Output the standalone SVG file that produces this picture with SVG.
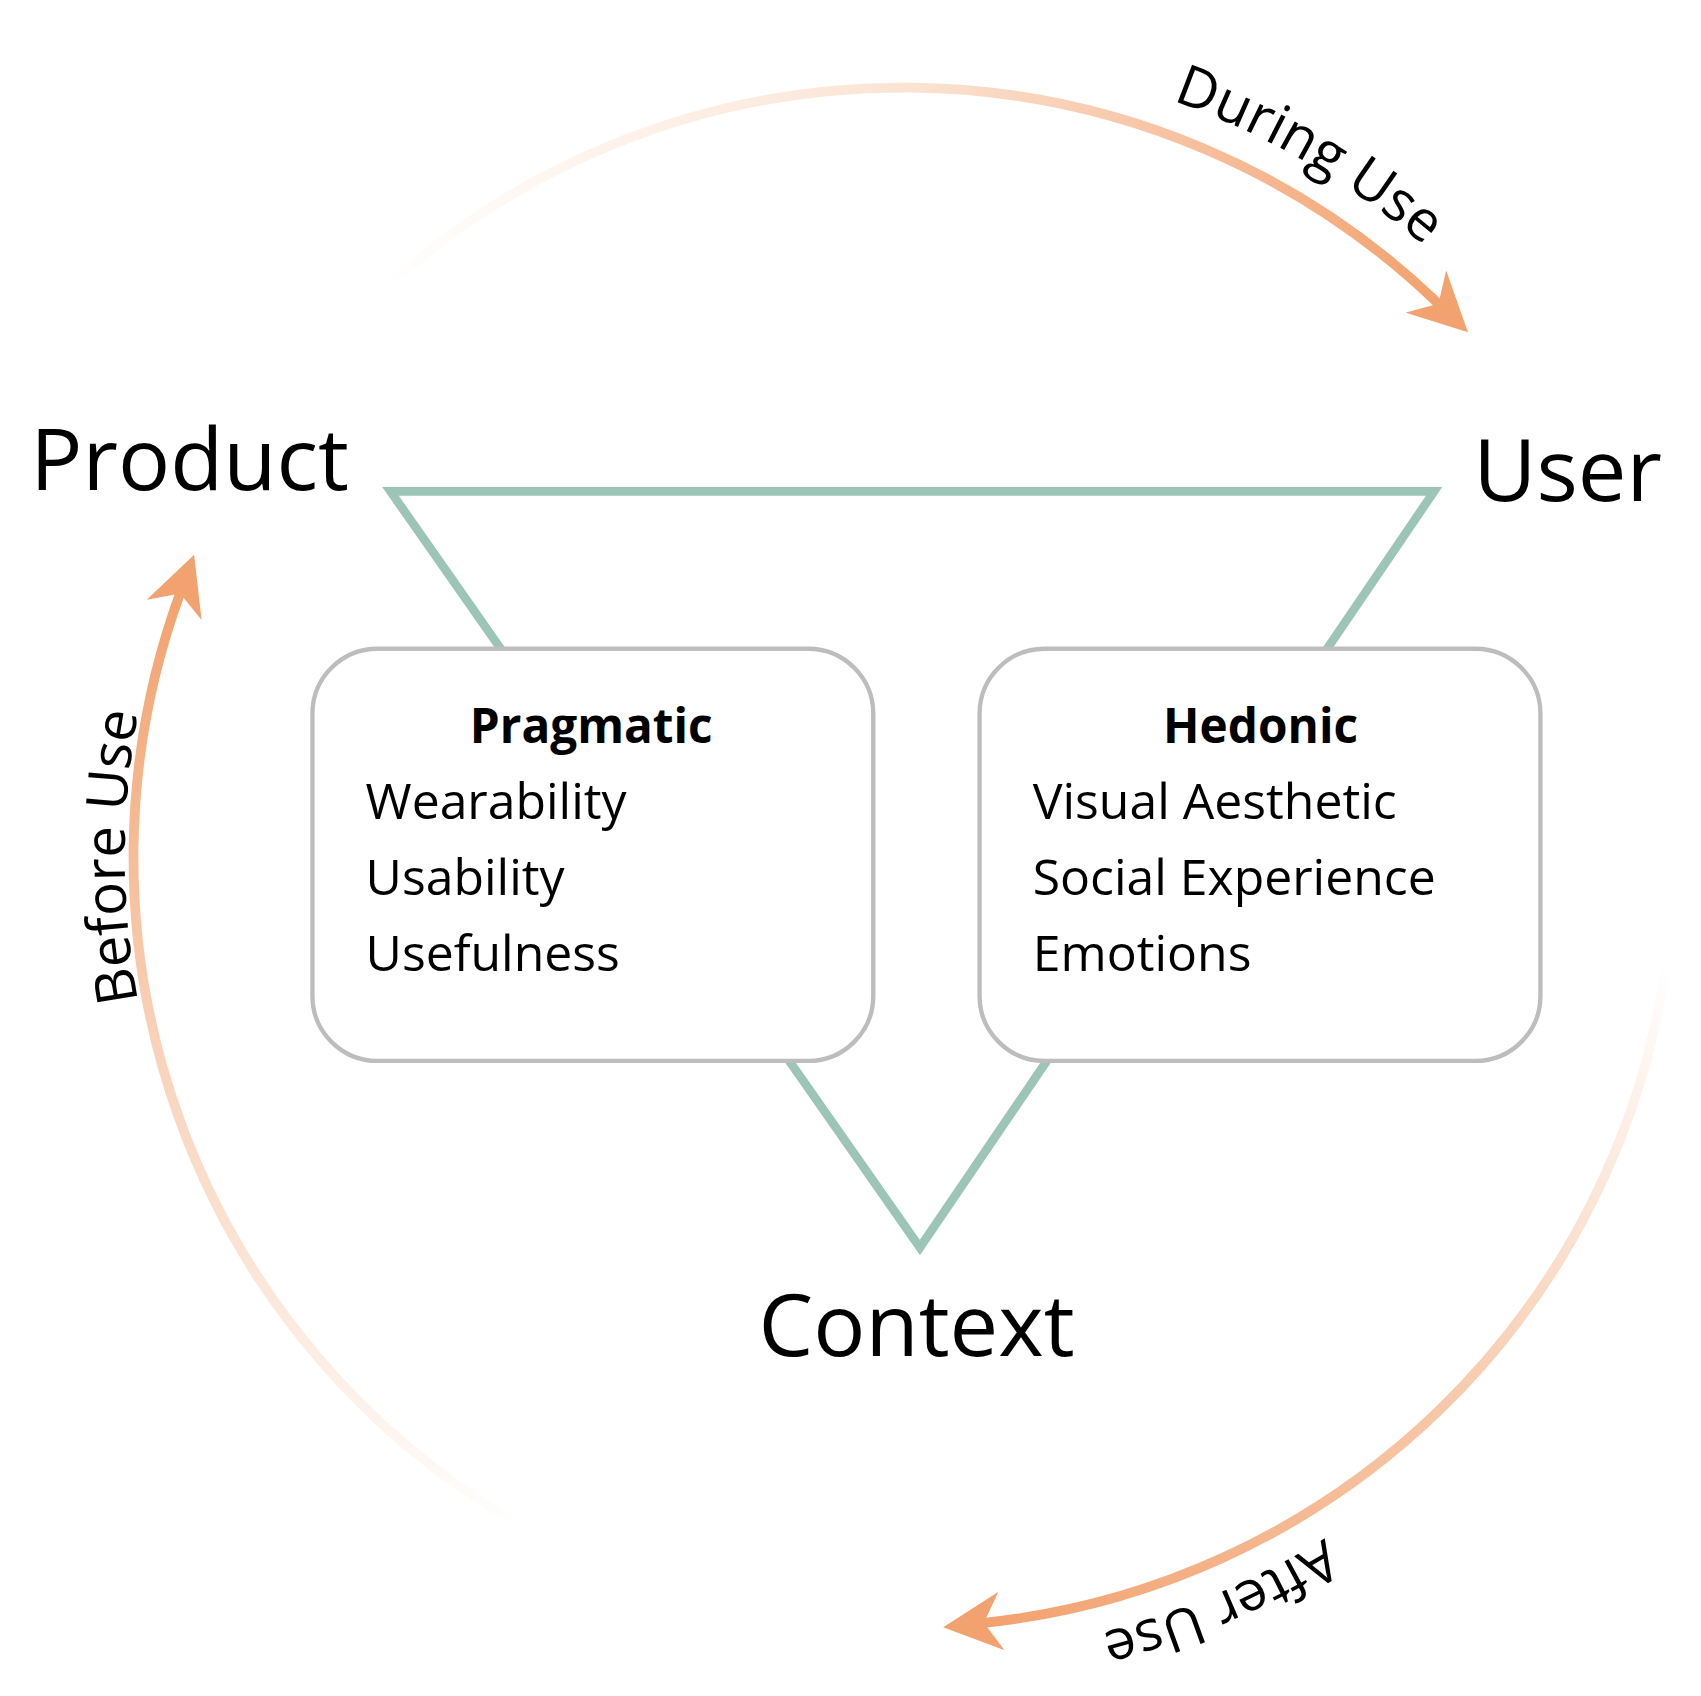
<svg xmlns="http://www.w3.org/2000/svg" width="1701" height="1696" viewBox="0 0 1701 1696">
<style>
.lbl{font-family:"Open Sans","Noto Sans",sans-serif;fill:#000}
.big{font-size:80px}
.item{font-size:46px}
.head{font-size:44px;font-weight:bold}
.arcl{font-size:52px}
.box{fill:#fff;stroke:#bdbdbd;stroke-width:4}
.arc{fill:none;stroke-width:9}
</style>
<defs>
<marker id="ah" viewBox="0 0 10 10" refX="3" refY="5" markerWidth="6" markerHeight="6" orient="auto" markerUnits="strokeWidth"><path d="M0,0 L10,5 L0,10 L3,5 Z" fill="#f2a26e"/></marker>
<linearGradient id="g1" gradientUnits="userSpaceOnUse" x1="349" y1="271" x2="1326" y2="280"><stop offset="0" stop-color="#f2a26e" stop-opacity="0"/><stop offset="0.5" stop-color="#f2a26e" stop-opacity="0.3"/><stop offset="1" stop-color="#f2a26e"/></linearGradient>
<linearGradient id="g2" gradientUnits="userSpaceOnUse" x1="478" y1="1405" x2="166" y2="547"><stop offset="0" stop-color="#f2a26e" stop-opacity="0"/><stop offset="0.6" stop-color="#f2a26e" stop-opacity="0.5"/><stop offset="1" stop-color="#f2a26e"/></linearGradient>
<linearGradient id="g3" gradientUnits="userSpaceOnUse" x1="1536" y1="889" x2="907" y2="1496"><stop offset="0" stop-color="#f2a26e" stop-opacity="0"/><stop offset="0.5" stop-color="#f2a26e" stop-opacity="0.6"/><stop offset="1" stop-color="#f2a26e"/></linearGradient>
<path id="t1" d="M961.5,61.2 A740,740 0 0 1 1399.9,314.3"/>
<path id="t2" d="M158.3,1035.6 A718,718 0 0 1 158.3,544.4"/>
<path id="t3" d="M1336.3,1329.8 A738,738 0 0 1 871.6,1527"/>
</defs>
<rect width="1701" height="1696" fill="#fff"/>
<g transform="scale(1.0848)">
<g id="connectors">
<path class="arc" stroke="url(#g1)" d="M349,271 A710,710 0 0 1 1326,280" marker-end="url(#ah)"/>
<path class="arc" stroke="url(#g2)" d="M478,1405 A710,710 0 0 1 166,547" marker-end="url(#ah)"/>
<path class="arc" stroke="url(#g3)" d="M1536,889 A710,710 0 0 1 907,1496" marker-end="url(#ah)"/>
<polygon points="360,453 1322,453 848,1150" fill="none" stroke="#9cc5b8" stroke-width="8" stroke-linejoin="miter"/>
</g>
<g id="arc-labels">
<text class="lbl arcl" text-anchor="middle"><textPath href="#t1" startOffset="50%">During Use</textPath></text>
<text class="lbl arcl" text-anchor="middle"><textPath href="#t2" startOffset="50%">Before Use</textPath></text>
<text class="lbl arcl" text-anchor="middle"><textPath href="#t3" startOffset="50%">After Use</textPath></text>
</g>
<g id="product"><text class="lbl big" x="28" y="452">Product</text></g>
<g id="user"><text class="lbl big" x="1358" y="462">User</text></g>
<g id="context"><text class="lbl big" x="845" y="1250" text-anchor="middle">Context</text></g>
<g id="pragmatic">
<rect class="box" x="288" y="598" width="517" height="380" rx="60"/>
<text class="lbl head" x="545" y="685" text-anchor="middle">Pragmatic</text>
<text class="lbl item" x="337" y="755">Wearability</text>
<text class="lbl item" x="337" y="825">Usability</text>
<text class="lbl item" x="337" y="895">Usefulness</text>
</g>
<g id="hedonic">
<rect class="box" x="903" y="598" width="517" height="380" rx="60"/>
<text class="lbl head" x="1162" y="685" text-anchor="middle">Hedonic</text>
<text class="lbl item" x="952" y="755">Visual Aesthetic</text>
<text class="lbl item" x="952" y="825">Social Experience</text>
<text class="lbl item" x="952" y="895">Emotions</text>
</g>
</g>
</svg>
